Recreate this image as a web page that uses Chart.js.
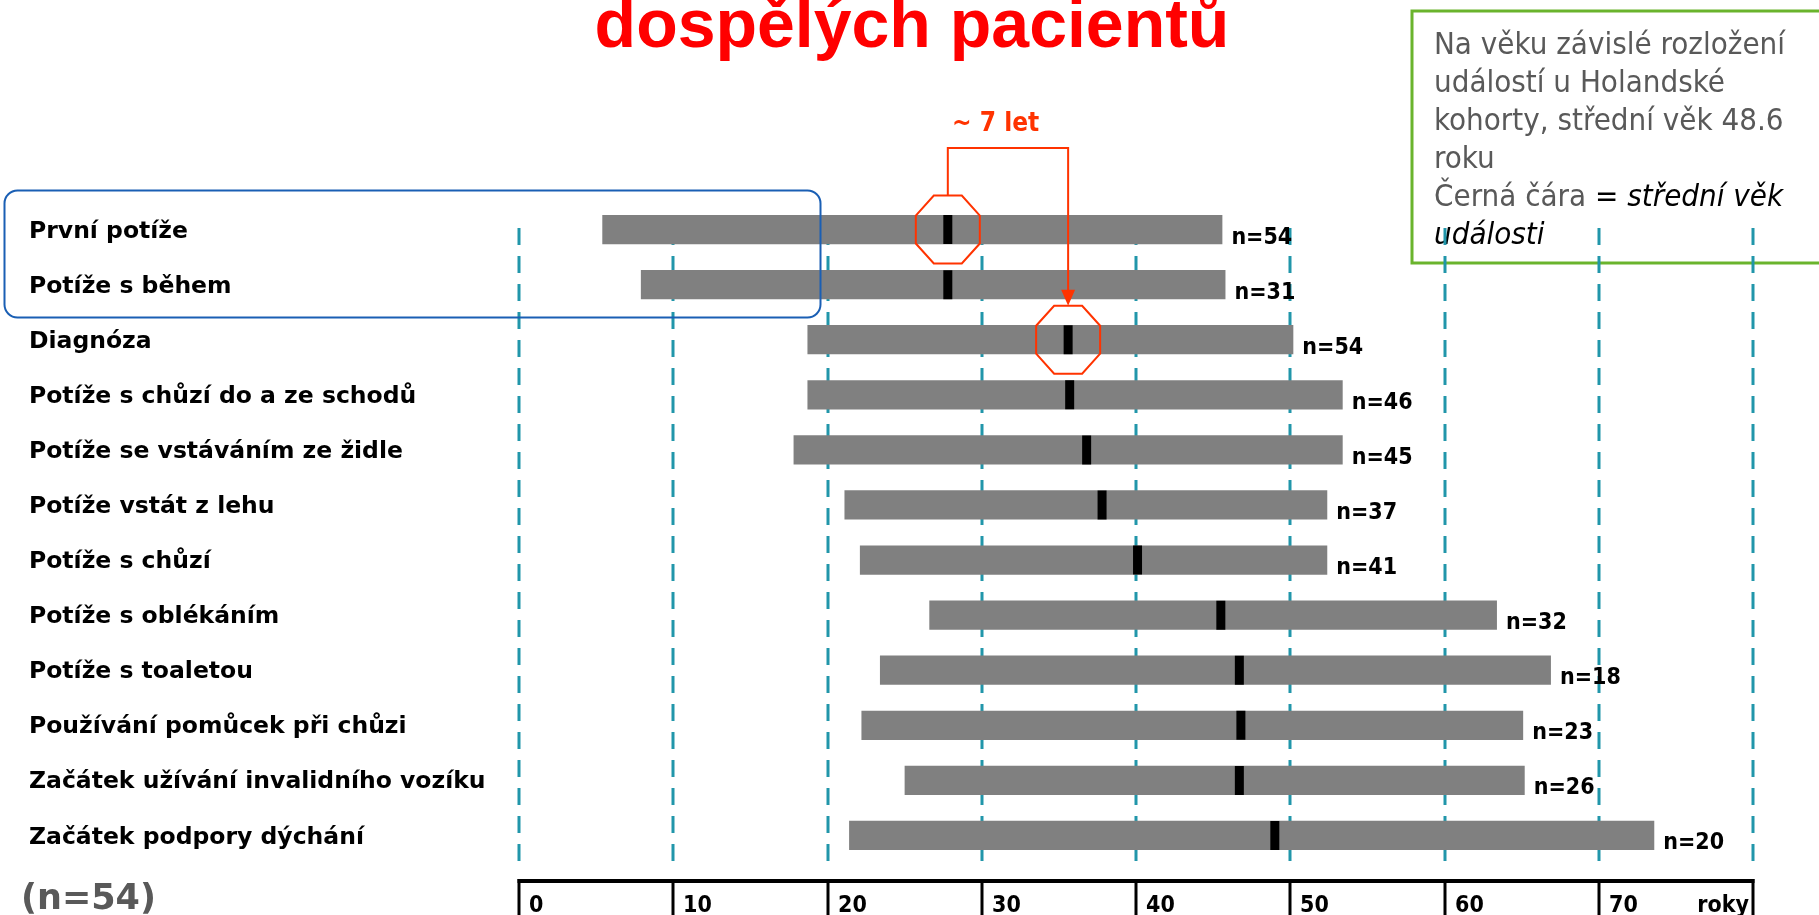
<!DOCTYPE html>
<html>
<head>
<meta charset="utf-8">
<title>Věk při událostech</title>
<script src="https://cdn.jsdelivr.net/npm/chart.js@4"></script>
<style>
    html, body { margin: 0; padding: 0; background: #fff; }
    canvas { display: block; }
</style>
</head>
<body>
<canvas id="chart" width="1819" height="915"></canvas>
<script>
// Data (age in years)
var categories = [
    'První potíže',
    'Potíže s během',
    'Diagnóza',
    'Potíže s chůzí do a ze schodů',
    'Potíže se vstáváním ze židle',
    'Potíže vstát z lehu',
    'Potíže s chůzí',
    'Potíže s oblékáním',
    'Potíže s toaletou',
    'Používání pomůcek při chůzi',
    'Začátek užívání invalidního vozíku',
    'Začátek podpory dýchání'
];
var rangeStart = [5.4, 7.9, 18.7, 18.7, 17.8, 21.1, 22.1, 26.6, 23.4, 22.2, 25.0, 21.4];
var rangeEnd   = [45.6, 45.8, 50.2, 53.4, 53.4, 52.4, 52.4, 63.4, 66.9, 65.1, 65.2, 73.6];
var medianAge  = [27.8, 27.8, 35.6, 35.7, 36.8, 37.8, 40.1, 45.5, 46.7, 46.8, 46.7, 49.0];
var nCounts    = [54, 31, 54, 46, 45, 37, 41, 32, 18, 23, 26, 20];

var xTicks      = [0, 10, 20, 30, 40, 50, 60, 70, 80];
var xTickLabels = ['0', '10', '20', '30', '40', '50', '60', '70', 'roky'];

var titleText = 'dospělých pacientů';
var noteLines = [
    [['Na věku závislé rozložení', false]],
    [['událostí u Holandské', false]],
    [['kohorty, střední věk 48.6', false]],
    [['roku', false]],
    [['Černá čára ', false], ['= střední věk', true]],
    [['události', true]]
];
var gapLabel = '~ 7 let';
var totalLabel = '(n=54)';

var COND = '"DejaVu Sans Condensed", "DejaVu Sans", sans-serif';
var WIDE = '"DejaVu Sans", sans-serif';
var ORANGE = '#ff3300';

function font(size, weight, style, family) {
    return (style || '') + ' ' + (weight || 'normal') + ' ' + size + 'px ' + (family || COND);
}

function octagon(ctx, cx, cy) {
    var pts = [[-14, -34], [14, -34], [32, -14], [32, 14], [14, 34], [-14, 34], [-32, 14], [-32, -14]];
    ctx.beginPath();
    pts.forEach(function (p, i) {
        if (i === 0) ctx.moveTo(cx + p[0], cy + p[1]);
        else ctx.lineTo(cx + p[0], cy + p[1]);
    });
    ctx.closePath();
    ctx.stroke();
}

function roundRect(ctx, x, y, w, h, r) {
    ctx.beginPath();
    ctx.moveTo(x + r, y);
    ctx.arcTo(x + w, y, x + w, y + h, r);
    ctx.arcTo(x + w, y + h, x, y + h, r);
    ctx.arcTo(x, y + h, x, y, r);
    ctx.arcTo(x, y, x + w, y, r);
    ctx.closePath();
}

// note box + dashed grid behind the bars
var backgroundPlugin = {
    id: 'background',
    beforeDatasetsDraw: function (chart) {
        var ctx = chart.ctx;
        var xs = chart.scales.x;

        ctx.save();
        ctx.fillStyle = '#fff';
        ctx.fillRect(1412, 11, 420, 252);
        ctx.strokeStyle = '#6ab42d';
        ctx.lineWidth = 3;
        ctx.strokeRect(1412, 11, 420, 252);

        ctx.textAlign = 'left';
        ctx.textBaseline = 'alphabetic';
        noteLines.forEach(function (line, i) {
            var x = 1434;
            var y = 54 + i * 38;
            line.forEach(function (part) {
                ctx.font = part[1] ? font(31, 'normal', 'italic') : font(31);
                ctx.fillStyle = part[1] ? '#000' : '#595959';
                ctx.fillText(part[0], x, y);
                x += ctx.measureText(part[0]).width;
            });
        });

        ctx.strokeStyle = '#2196aa';
        ctx.lineWidth = 3;
        ctx.setLineDash([17, 11]);
        xTicks.forEach(function (v) {
            var px = Math.round(xs.getPixelForValue(v));
            ctx.beginPath();
            ctx.moveTo(px, 228);
            ctx.lineTo(px, 862);
            ctx.stroke();
        });
        ctx.restore();
    }
};

var overlayPlugin = {
    id: 'overlay',
    afterDraw: function (chart) {
        var ctx = chart.ctx;
        var xs = chart.scales.x;
        var ys = chart.scales.y;

        ctx.save();

        // n= labels
        ctx.fillStyle = '#000';
        ctx.font = font(23, 'bold');
        ctx.textAlign = 'left';
        ctx.textBaseline = 'alphabetic';
        nCounts.forEach(function (n, i) {
            ctx.fillText('n=' + n, xs.getPixelForValue(rangeEnd[i]) + 9, ys.getPixelForValue(i) + 14);
        });

        // bottom axis
        var x0 = xs.getPixelForValue(xTicks[0]);
        var x1 = xs.getPixelForValue(xTicks[xTicks.length - 1]);
        ctx.strokeStyle = '#000';
        ctx.lineWidth = 4;
        ctx.beginPath();
        ctx.moveTo(x0 - 1.5, 881);
        ctx.lineTo(x1 + 1.5, 881);
        ctx.stroke();
        ctx.lineWidth = 3;
        ctx.font = font(23, 'bold');
        xTicks.forEach(function (v, i) {
            var px = Math.round(xs.getPixelForValue(v));
            ctx.beginPath();
            ctx.moveTo(px, 879);
            ctx.lineTo(px, 915);
            ctx.stroke();
            if (i === xTicks.length - 1) {
                ctx.textAlign = 'right';
                ctx.fillText(xTickLabels[i], px - 4, 912);
            } else {
                ctx.textAlign = 'left';
                ctx.fillText(xTickLabels[i], px + 10, 912);
            }
        });

        ctx.textAlign = 'left';
        ctx.fillStyle = '#595959';
        ctx.font = font(35, 'bold', '', WIDE);
        ctx.fillText(totalLabel, 21, 909);

        // title (cut at the top edge)
        ctx.fillStyle = '#ff0000';
        ctx.font = 'bold 68px "Liberation Sans", Arial, sans-serif';
        ctx.textAlign = 'center';
        ctx.fillText(titleText, 912, 47);

        // blue frame round the first two rows
        ctx.strokeStyle = '#1a5fb4';
        ctx.lineWidth = 2;
        roundRect(ctx, 4.5, 190.5, 816, 127, 13);
        ctx.stroke();

        // orange annotation: first problems -> diagnosis
        var ax = xs.getPixelForValue(medianAge[0]);
        var ay = ys.getPixelForValue(0);
        var bx = xs.getPixelForValue(medianAge[2]);
        var by = ys.getPixelForValue(2);
        ctx.strokeStyle = ORANGE;
        ctx.fillStyle = ORANGE;
        ctx.lineWidth = 2;
        octagon(ctx, ax, ay);
        octagon(ctx, bx, by);
        ctx.beginPath();
        ctx.moveTo(ax, ay - 34);
        ctx.lineTo(ax, 148);
        ctx.lineTo(bx, 148);
        ctx.lineTo(bx, by - 48);
        ctx.stroke();
        ctx.beginPath();
        ctx.moveTo(bx - 7, by - 50);
        ctx.lineTo(bx + 7, by - 50);
        ctx.lineTo(bx, by - 34);
        ctx.closePath();
        ctx.fill();

        ctx.font = font(26, 'bold');
        ctx.textAlign = 'left';
        ctx.fillText(gapLabel, 952, 131);

        ctx.restore();
    }
};

new Chart(document.getElementById('chart').getContext('2d'), {
    type: 'bar',
    data: {
        labels: categories,
        datasets: [{
            label: 'rozpětí',
            data: rangeStart.map(function (s, i) { return [s, rangeEnd[i]]; }),
            backgroundColor: '#808080',
            borderWidth: 0,
            barPercentage: 0.53,
            categoryPercentage: 1,
            order: 1
        }, {
            type: 'line',
            label: 'střední věk',
            indexAxis: 'y',
            data: medianAge.map(function (m, i) { return { x: m, y: categories[i] }; }),
            showLine: false,
            pointStyle: 'line',
            rotation: 90,
            pointRadius: 14.5,
            pointHoverRadius: 14.5,
            pointBorderWidth: 9,
            pointBorderColor: '#000',
            order: 0
        }]
    },
    options: {
        indexAxis: 'y',
        responsive: false,
        devicePixelRatio: 1,
        animation: false,
        events: [],
        layout: {
            padding: { left: 29, top: 202, right: 66, bottom: 52 }
        },
        plugins: {
            legend: { display: false },
            tooltip: { enabled: false }
        },
        scales: {
            x: {
                display: false,
                min: 0,
                max: 80
            },
            y: {
                grid: { display: false },
                border: { display: false },
                ticks: {
                    crossAlign: 'far',
                    labelOffset: 2,
                    color: '#000',
                    font: { family: WIDE, size: 23.5, weight: 'bold' }
                },
                afterFit: function (scale) {
                    scale.width = 490;
                }
            }
        }
    },
    plugins: [backgroundPlugin, overlayPlugin]
});
</script>
</body>
</html>
